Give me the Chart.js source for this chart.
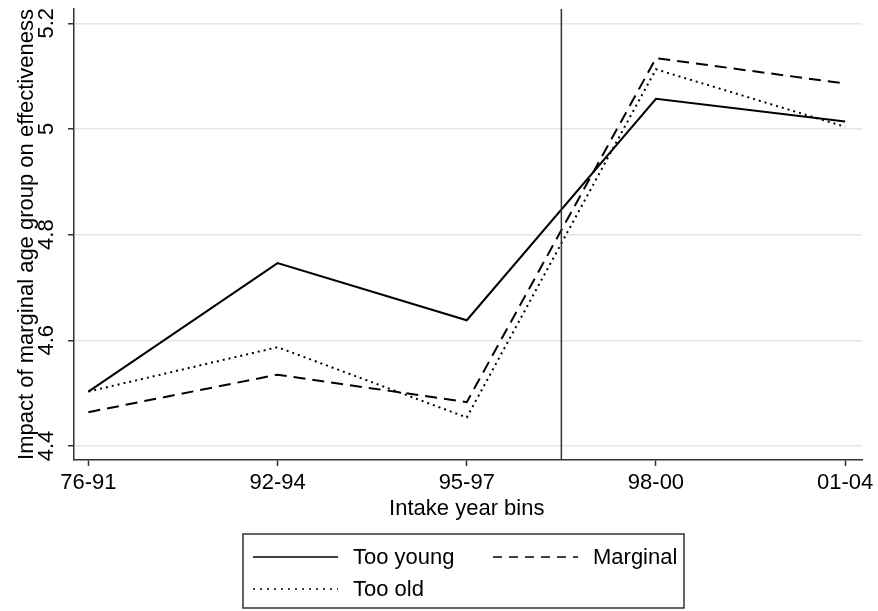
<!DOCTYPE html>
<html>
<head>
<meta charset="utf-8">
<script src="https://cdn.jsdelivr.net/npm/chart.js@4/dist/chart.umd.min.js"></script>
<style>
	body { margin:0; background:#fff; }
	canvas { display:block; }
</style>
</head>
<body>
<canvas id="chart" width="878" height="611"></canvas>
<script>
// data
var bins = ["76-91", "92-94", "95-97", "98-00", "01-04"];
var tooYoung = [4.503, 4.746, 4.638, 5.057, 5.014];
var marginal = [4.464, 4.535, 4.483, 5.134, 5.086];
var tooOld   = [4.503, 4.587, 4.454, 5.113, 5.004];
var yTicks = [4.4, 4.6, 4.8, 5.0, 5.2];
var cutoff = 2.5; // reform line between 95-97 and 98-00

var FONT = "'Liberation Sans', Arial, sans-serif";
var INK = '#000';
var AXIS = '#333';

var toPoints = function(vals)
{
	return vals.map(function(v, i){ return {x:i, y:v}; });
}

var extras = {
	id: 'extras',
	afterDatasetsDraw: function(chart)
	{
		var ctx = chart.ctx;
		var xs = chart.scales.x, ys = chart.scales.y, area = chart.chartArea;

		// vertical cutoff line
		var cx = xs.getPixelForValue(cutoff);
		ctx.save();
		ctx.strokeStyle = AXIS;
		ctx.lineWidth = 1.5;
		ctx.beginPath();
		ctx.moveTo(cx, area.top);
		ctx.lineTo(cx, area.bottom);
		ctx.stroke();
		ctx.restore();
	},
	afterDraw: function(chart)
	{
		var ctx = chart.ctx;
		var xs = chart.scales.x, ys = chart.scales.y, area = chart.chartArea;

		ctx.save();
		ctx.fillStyle = INK;
		ctx.font = '22px ' + FONT;

		// rotated y tick labels
		ctx.textAlign = 'center';
		ctx.textBaseline = 'alphabetic';
		yTicks.forEach(function(t){
			var py = ys.getPixelForValue(t);
			ctx.save();
			ctx.translate(53, py);
			ctx.rotate(-Math.PI/2);
			ctx.fillText(String(t === 5 ? '5' : t), 0, 0);
			ctx.restore();
		});

		// y title
		ctx.save();
		ctx.translate(33, (area.top + area.bottom)/2);
		ctx.rotate(-Math.PI/2);
		ctx.fillText('Impact of marginal age group on effectiveness', 0, 0);
		ctx.restore();

		// x title
		ctx.textBaseline = 'middle';
		ctx.fillText('Intake year bins', (xs.getPixelForValue(0) + xs.getPixelForValue(4))/2, 509);

		// legend box
		ctx.strokeStyle = AXIS;
		ctx.lineWidth = 1.5;
		ctx.strokeRect(243, 534, 441, 74);

		var slots = [[253, 557], [493, 557], [253, 589]];
		ctx.textAlign = 'left';
		chart.data.datasets.forEach(function(ds, i){
			var s = slots[i];
			ctx.save();
			ctx.strokeStyle = ds.borderColor;
			ctx.lineWidth = 1.5;
			ctx.setLineDash(ds.legendDash || []);
			ctx.beginPath();
			ctx.moveTo(s[0], s[1]);
			ctx.lineTo(s[0] + 85, s[1]);
			ctx.stroke();
			ctx.restore();
			ctx.fillText(ds.label, s[0] + 100, s[1] + 1);
		});
		ctx.restore();
	}
};

new Chart(document.getElementById('chart'), {
	type: 'line',
	data: {
		datasets: [
			{ label: 'Too young', data: toPoints(tooYoung), borderColor: INK, borderWidth: 2, borderDash: [], legendDash: [] },
			{ label: 'Marginal', data: toPoints(marginal), borderColor: INK, borderWidth: 2, borderDash: [12, 7], legendDash: [9, 7] },
			{ label: 'Too old', data: toPoints(tooOld), borderColor: INK, borderWidth: 2, borderDash: [2, 4], legendDash: [2, 5] }
		]
	},
	options: {
		responsive: false,
		animation: false,
		layout: { padding: { top: 9, right: 16, left: 0, bottom: 0 } },
		elements: { point: { radius: 0 }, line: { tension: 0, fill: false } },
		plugins: { legend: { display: false }, tooltip: { enabled: false } },
		scales: {
			x: {
				type: 'linear',
				min: -0.076,
				max: 4.089,
				afterBuildTicks: function(scale){
					scale.ticks = bins.map(function(b, i){ return {value:i}; });
				},
				afterFit: function(scale){ scale.height = 151; },
				border: { display: true, color: AXIS, width: 1.5 },
				grid: { drawOnChartArea: false, tickLength: 6, tickColor: AXIS, tickWidth: 1.5 },
				ticks: {
					color: INK,
					padding: 4,
					maxRotation: 0,
					font: { family: FONT, size: 22 },
					callback: function(v){ return bins[v]; }
				}
			},
			y: {
				type: 'linear',
				min: 4.3735,
				max: 5.227,
				afterBuildTicks: function(scale){
					scale.ticks = yTicks.map(function(t){ return {value:t}; });
				},
				afterFit: function(scale){ scale.width = 74; },
				border: { display: true, color: AXIS, width: 1.5 },
				grid: { color: '#e6e6e6', lineWidth: 1.5, tickLength: 6, tickColor: AXIS, tickWidth: 1.5 },
				ticks: { display: false }
			}
		}
	},
	plugins: [extras]
});
</script>
</body>
</html>
